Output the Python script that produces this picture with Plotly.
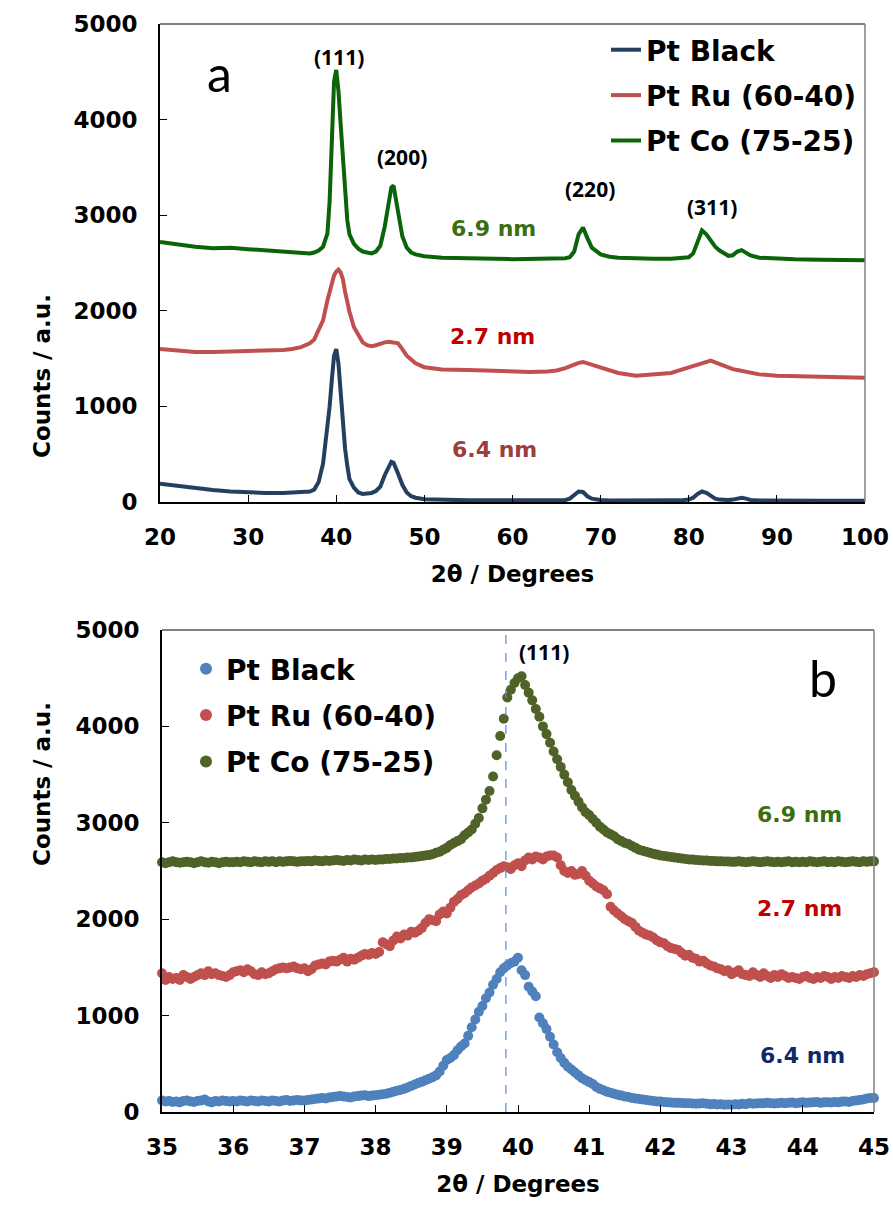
import plotly.graph_objects as go

# ---------------- data: panel a (wide scan) ----------------
TOP_2THETA = [20, 22, 24, 26, 28, 30, 32, 34, 35, 36,
              37, 37.5, 38, 38.5, 39, 39.25, 39.5, 39.75, 40, 40.25,
              40.5, 40.75, 41, 41.25, 41.5, 42, 42.5, 43, 43.5, 44,
              44.5, 45, 45.5, 46, 46.25, 46.5, 46.75, 47, 47.5, 48,
              48.5, 49, 50, 52, 55, 58, 60, 62, 64, 65,
              66, 66.5, 67, 67.5, 68, 68.5, 69, 70, 71, 72,
              74, 76, 78, 79, 80, 80.5, 81, 81.5, 82, 82.5,
              83, 83.5, 84, 84.5, 85, 85.5, 86, 86.5, 87, 88,
              90, 92, 95, 98, 100]

TOP_PT_BLACK = [190, 165, 140, 125, 110, 100, 95, 95, 97, 100,
                110, 130, 210, 400, 750, 1000, 1280, 1530, 1600, 1450,
                1150, 800, 560, 380, 240, 150, 100, 85, 85, 95,
                115, 160, 280, 380, 420, 410, 360, 300, 180, 100,
                60, 45, 28, 20, 18, 17, 17, 15, 17, 18,
                22, 35, 70, 110, 105, 60, 35, 20, 16, 15,
                15, 15, 15, 17, 25, 45, 85, 110, 95, 60,
                35, 25, 20, 20, 25, 35, 45, 35, 22, 15,
                12, 12, 12, 12, 12]

TOP_PT_RU = [1600, 1580, 1570, 1570, 1575, 1570, 1580, 1590, 1600, 1620,
             1660, 1700, 1800, 1900, 2110, 2200, 2290, 2370, 2410, 2430,
             2400, 2330, 2200, 2080, 1990, 1830, 1740, 1670, 1640, 1630,
             1640, 1660, 1670, 1675, 1670, 1670, 1665, 1660, 1600, 1530,
             1490, 1450, 1410, 1385, 1380, 1370, 1360, 1360, 1365, 1375,
             1400, 1420, 1440, 1455, 1465, 1450, 1430, 1400, 1370, 1350,
             1320, 1330, 1350, 1380, 1410, 1430, 1445, 1460, 1470, 1480,
             1460, 1440, 1420, 1400, 1390, 1380, 1370, 1360, 1350, 1335,
             1320, 1315, 1310, 1305, 1300]

TOP_PT_CO = [2720, 2690, 2670, 2655, 2660, 2645, 2630, 2615, 2605, 2600,
             2600, 2610, 2630, 2670, 2810, 3150, 3900, 4400, 4520, 4300,
             3950, 3600, 3200, 2950, 2800, 2700, 2650, 2620, 2610, 2600,
             2620, 2680, 2880, 3190, 3290, 3310, 3180, 3050, 2780, 2660,
             2610, 2590, 2570, 2555, 2545, 2545, 2540, 2540, 2545, 2545,
             2550, 2560, 2620, 2800, 2870, 2760, 2660, 2590, 2565, 2555,
             2545, 2545, 2545, 2550, 2560, 2600, 2720, 2840, 2800, 2730,
             2670, 2630, 2600, 2575, 2580, 2620, 2635, 2610, 2580, 2555,
             2545, 2540, 2535, 2530, 2530]

# ---------------- data: panel b (35-45 deg, 0.05 deg steps) ----------------
ZOOM_START = 35.0
ZOOM_STEP = 0.05

ZOOM_PT_BLACK = [
    120, 110, 115, 105, 110, 100, 115, 120, 110, 105, 115, 120, 130, 110, 100, 115, 110, 120, 115, 110,   # 35
    115, 110, 120, 115, 110, 120, 115, 110, 120, 115, 110, 120, 115, 110, 120, 125, 115, 120, 125, 120,   # 36
    120, 125, 130, 135, 140, 145, 140, 150, 155, 160, 165, 160, 155, 150, 160, 165, 170, 175, 165, 170,   # 37
    175, 180, 185, 190, 200, 210, 220, 228, 240, 255, 270, 285, 300, 315, 330, 345, 360, 380, 420, 480,   # 38
    540, 560, 590, 640, 680, 710, 790, 880, 960, 1040, 1100, 1180, 1240, 1320, 1380, 1450, 1490, 1520, 1545, 1560,  # 39
    1600, 1470, 1420, 1300, 1250, 1200, 980, 920, 860, 780, 700, 620, 560, 510, 470, 440, 410, 380, 350, 330,  # 40
    310, 290, 260, 240, 225, 210, 200, 190, 180, 170, 160, 155, 145, 140, 135, 130, 125, 120, 115, 110,   # 41
    108, 105, 100, 98, 95, 95, 93, 90, 92, 88, 85, 88, 90, 85, 80, 82, 78, 80, 75, 78,                    # 42
    75, 80, 78, 85, 80, 90, 85, 88, 92, 90, 95, 90, 88, 92, 95, 90, 95, 98, 92, 95,                       # 43
    100, 95, 98, 100, 105, 95, 100, 102, 98, 105, 100, 108, 110, 105, 115, 120, 125, 130, 140, 145,       # 44
    145]

ZOOM_PT_RU = [
    1440, 1370, 1400, 1380, 1390, 1370, 1420, 1400, 1380, 1400, 1420, 1440, 1420, 1460, 1430, 1440, 1420, 1410, 1400, 1420,  # 35
    1450, 1460, 1470, 1450, 1480, 1460, 1430, 1420, 1450, 1430, 1440, 1460, 1480, 1490, 1500, 1490, 1500, 1510, 1490, 1480,  # 36
    1490, 1460, 1480, 1520, 1530, 1540, 1530, 1560, 1570, 1560, 1580, 1600, 1560, 1590, 1580, 1600, 1620, 1640, 1630, 1650,  # 37
    1640, 1660, 1760, 1740, 1720, 1780, 1820, 1800, 1840, 1830, 1870, 1860, 1880, 1910, 1960, 2000, 1990, 1980, 2050, 2080,  # 38
    2060, 2120, 2180, 2210, 2250, 2270, 2300, 2330, 2350, 2370, 2400, 2420, 2450, 2480, 2510, 2530, 2550, 2540, 2520, 2560,  # 39
    2580, 2550, 2610, 2640, 2620, 2650, 2640, 2620, 2650, 2660, 2660, 2640, 2560, 2500, 2480, 2500, 2460, 2470, 2500, 2450,  # 40
    2400, 2370, 2340, 2320, 2300, 2260, 2130, 2090, 2060, 2030, 2000, 1980, 1960, 1920, 1880, 1860, 1840, 1830, 1810, 1780,  # 41
    1760, 1750, 1720, 1700, 1690, 1680, 1650, 1620, 1630, 1600, 1590, 1560, 1570, 1540, 1520, 1510, 1490, 1480, 1460, 1470,  # 42
    1430, 1450, 1470, 1430, 1420, 1410, 1450, 1420, 1400, 1440, 1410, 1390, 1420, 1400, 1430, 1410, 1390, 1400, 1390, 1380,  # 43
    1400, 1410, 1390, 1380, 1400, 1390, 1410, 1400, 1380, 1400, 1390, 1410, 1400, 1390, 1410, 1400, 1420, 1410, 1430, 1440,  # 44
    1450]

ZOOM_PT_CO = [
    2590, 2580, 2590, 2600, 2590, 2585, 2590, 2595, 2590, 2580, 2590, 2600, 2590, 2585, 2595, 2590, 2580, 2590, 2595, 2590,  # 35
    2590, 2595, 2590, 2600, 2595, 2590, 2600, 2595, 2590, 2600, 2595, 2600, 2590, 2600, 2595, 2600, 2605, 2600, 2595, 2600,  # 36
    2600, 2605, 2600, 2610, 2605, 2600, 2610, 2605, 2610, 2615, 2610, 2605, 2615, 2610, 2620, 2615, 2610, 2620, 2615, 2620,  # 37
    2615, 2620, 2620, 2625, 2625, 2630, 2630, 2635, 2635, 2640, 2640, 2645, 2650, 2655, 2660, 2665, 2675, 2690, 2700, 2720,  # 38
    2740, 2770, 2790, 2810, 2830, 2870, 2900, 2930, 2990, 3050, 3150, 3240, 3330, 3480, 3700, 3900, 4080, 4300, 4380, 4450,  # 39
    4500, 4520, 4430, 4350, 4270, 4180, 4100, 4000, 3920, 3830, 3740, 3660, 3580, 3500, 3420, 3340, 3280, 3220, 3160, 3110,  # 40
    3080, 3040, 3000, 2960, 2930, 2900, 2880, 2860, 2830, 2810, 2790, 2780, 2760, 2740, 2720, 2710, 2700, 2690, 2680, 2670,  # 41
    2660, 2655, 2650, 2645, 2640, 2635, 2630, 2625, 2620, 2618, 2615, 2612, 2610, 2608, 2605, 2605, 2600, 2600, 2598, 2598,  # 42
    2595, 2595, 2600, 2595, 2590, 2595, 2600, 2595, 2590, 2595, 2600, 2595, 2590, 2595, 2590, 2595, 2600, 2590, 2595, 2590,  # 43
    2595, 2590, 2600, 2595, 2590, 2595, 2600, 2590, 2595, 2590, 2600, 2595, 2590, 2595, 2600, 2595, 2590, 2600, 2595, 2600,  # 44
    2600]

ZOOM_2THETA = [round(ZOOM_START + ZOOM_STEP * i, 2) for i in range(len(ZOOM_PT_BLACK))]
assert len(ZOOM_PT_RU) == len(ZOOM_PT_BLACK) == len(ZOOM_PT_CO)
assert len(TOP_2THETA) == len(TOP_PT_BLACK) == len(TOP_PT_RU) == len(TOP_PT_CO)

PT_111_REF = 39.83  # dashed reference line in panel b

SERIES_NAMES = ["Pt Black", "Pt Ru (60-40)", "Pt Co (75-25)"]
SIZE_LABELS = ["6.4 nm", "2.7 nm", "6.9 nm"]

# annotations: (text, 2theta, counts)
TOP_HKL = [("(111)", 40.3, 4655), ("(200)", 47.5, 3609), ("(220)", 68.8, 3274), ("(311)", 82.6, 3086)]
TOP_SIZE_POS = [(58.0, 544), (57.7, 1726), (57.8, 2866)]
BOT_HKL = [("(111)", 40.37, 4772)]
BOT_SIZE_POS = [(44.0, 581), (43.96, 2116), (43.96, 3081)]

# ---------------- styles ----------------
FONT = "DejaVu Sans"
LINE_COLORS = ["#243F60", "#C0504D", "#0A640A"]
MARKER_COLORS = ["#4F81BD", "#C0504D", "#4F6228"]
TOP_SIZE_COLORS = ["#9E3D3D", "#C00000", "#3A6E12"]
BOT_SIZE_COLORS = ["#0F2A6B", "#C00000", "#3A6E12"]

W, H = 893, 1209


def px_x(p):
    return p / W


def px_y(p):
    return 1 - p / H


fig = go.Figure()

top_series = [TOP_PT_BLACK, TOP_PT_RU, TOP_PT_CO]
for i, ys in enumerate(top_series):
    fig.add_trace(go.Scatter(
        x=TOP_2THETA, y=ys, mode="lines", name=SERIES_NAMES[i],
        line=dict(color=LINE_COLORS[i], width=4),
        xaxis="x", yaxis="y", legend="legend", legendgroup=f"a{i}",
    ))

bot_series = [ZOOM_PT_BLACK, ZOOM_PT_RU, ZOOM_PT_CO]
for i, ys in enumerate(bot_series):
    fig.add_trace(go.Scatter(
        x=ZOOM_2THETA, y=ys, mode="markers", name=SERIES_NAMES[i],
        marker=dict(color=MARKER_COLORS[i], size=10, line=dict(width=0)),
        xaxis="x2", yaxis="y2", legend="legend2", legendgroup=f"b{i}",
        cliponaxis=False,
    ))

tickfont = dict(family=FONT, size=23, color="black", weight="bold")
axis_common = dict(
    showline=True, linecolor="black", linewidth=2,
    ticks="inside", ticklen=7, tickwidth=1, tickcolor="black",
    showgrid=False, zeroline=False, tickfont=tickfont, automargin=False,
)
title_font = dict(family=FONT, size=23, color="black", weight="bold")

fig.update_layout(
    template="none",
    width=W, height=H, autosize=False,
    margin=dict(l=0, r=0, t=0, b=0, pad=0),
    paper_bgcolor="white", plot_bgcolor="white",
    showlegend=True,
    xaxis=dict(domain=[px_x(160), px_x(865)], range=[20, 100], tick0=20, dtick=10,
               anchor="y", ticklabelstandoff=13,
               title=dict(text="2θ / Degrees", font=title_font, standoff=17),
               **axis_common),
    yaxis=dict(domain=[px_y(502), px_y(24)], range=[0, 5000], dtick=1000,
               anchor="x", ticklabelstandoff=16, **axis_common),
    xaxis2=dict(domain=[px_x(162), px_x(874)], range=[35, 45], tick0=35, dtick=1,
                anchor="y2", ticklabelstandoff=13,
                title=dict(text="2θ / Degrees", font=title_font, standoff=17),
                **axis_common),
    yaxis2=dict(domain=[px_y(1112), px_y(630)], range=[0, 5000], dtick=1000,
                anchor="x2", ticklabelstandoff=16, **axis_common),
    legend=dict(x=px_x(606), y=px_y(25), xanchor="left", yanchor="top",
                font=dict(family=FONT, size=28, color="black", weight="bold"),
                bgcolor="rgba(0,0,0,0)", traceorder="grouped", tracegroupgap=6),
    legend2=dict(x=px_x(186), y=px_y(644), xanchor="left", yanchor="top",
                 font=dict(family=FONT, size=28, color="black", weight="bold"),
                 bgcolor="rgba(0,0,0,0)", traceorder="grouped", tracegroupgap=7,
                 itemsizing="constant"),
)

# frame: top and right edges
for xa, ya in [("x", "y"), ("x2", "y2")]:
    fig.add_shape(type="line", xref=f"{xa} domain", yref=f"{ya} domain",
                  x0=0, x1=1, y0=1, y1=1, line=dict(color="black", width=1))
    fig.add_shape(type="line", xref=f"{xa} domain", yref=f"{ya} domain",
                  x0=1, x1=1, y0=0, y1=1, line=dict(color="#808080", width=1.5))

# dashed reference line in panel b
fig.add_shape(type="line", xref="x2", yref="y2 domain", x0=PT_111_REF, x1=PT_111_REF,
              y0=0, y1=1, line=dict(color="#4A90E2", width=1.2, dash="dash"))

hkl_font = dict(family="Open Sans", size=21, color="black", weight="bold")
for txt, xv, yv in TOP_HKL:
    fig.add_annotation(text=txt, x=xv, y=yv, xref="x", yref="y", showarrow=False, font=hkl_font)
for txt, xv, yv in BOT_HKL:
    fig.add_annotation(text=txt, x=xv, y=yv, xref="x2", yref="y2", showarrow=False, font=hkl_font)

for i, (xv, yv) in enumerate(TOP_SIZE_POS):
    fig.add_annotation(text=SIZE_LABELS[i], x=xv, y=yv, xref="x", yref="y", showarrow=False,
                       font=dict(family=FONT, size=22, color=TOP_SIZE_COLORS[i], weight="bold"))
for i, (xv, yv) in enumerate(BOT_SIZE_POS):
    fig.add_annotation(text=SIZE_LABELS[i], x=xv, y=yv, xref="x2", yref="y2", showarrow=False,
                       font=dict(family=FONT, size=22, color=BOT_SIZE_COLORS[i], weight="bold"))

# panel letters
fig.add_annotation(text="a", x=26.7, y=4490, xref="x", yref="y", showarrow=False,
                   font=dict(family="Lato", size=50, color="black"))
fig.add_annotation(text="b", x=44.28, y=4500, xref="x2", yref="y2", showarrow=False,
                   font=dict(family="Lato", size=50, color="black"))

# y-axis titles
fig.add_annotation(text="Counts / a.u.", x=px_x(27), y=px_y(292), xref="paper", yref="paper",
                   textangle=-90, showarrow=False, font=title_font)
fig.add_annotation(text="Counts / a.u.", x=px_x(27), y=px_y(868), xref="paper", yref="paper",
                   textangle=-90, showarrow=False, font=title_font)

fig.write_html("out.html")
